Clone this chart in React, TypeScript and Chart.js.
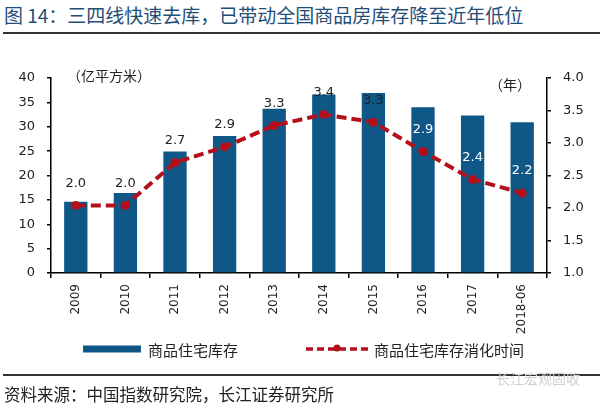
import React, { useEffect, useRef } from 'react';
import { Chart, registerables } from 'chart.js';

Chart.register(...registerables);

const TITLE = '图 14：三四线快速去库，已带动全国商品房库存降至近年低位';
const SOURCE = '资料来源：中国指数研究院，长江证券研究所';
const WATERMARK = '长江宏观固收';
const LEFT_UNIT = '（亿平方米）';
const RIGHT_UNIT = '（年）';

const categories = ['2009', '2010', '2011', '2012', '2013', '2014', '2015', '2016', '2017', '2018-06'];
const inventory = [14.6, 16.4, 24.9, 28.1, 33.7, 36.6, 36.9, 34.0, 32.3, 30.9];
const digestion = [2.04, 2.04, 2.7, 2.94, 3.27, 3.44, 3.32, 2.87, 2.44, 2.23];
const seriesNames = ['商品住宅库存', '商品住宅库存消化时间'];

const BAR_COLOR = '#0f5787';
const LINE_COLOR = '#b3101c';
const NUM_FONT = '"DejaVu Sans", "Noto Sans CJK SC", sans-serif';
const CJK_FONT = '"Noto Sans CJK SC", sans-serif';

const overlayPlugin = {
  id: 'overlay',
  afterDatasetsDraw(chart: any) {
    const ctx = chart.ctx;
    const area = chart.chartArea;
    const barMeta = chart.getDatasetMeta(0);
    const lineMeta = chart.getDatasetMeta(1);
    ctx.save();
    // value labels of the line series
    ctx.font = `13px ${NUM_FONT}`;
    ctx.textAlign = 'center';
    ctx.textBaseline = 'middle';
    lineMeta.data.forEach((pt: any, i: number) => {
      const y = pt.y - 22;
      const barTop = barMeta.data[i].y;
      ctx.fillStyle = y > barTop + 10 ? '#ffffff' : '#222222';
      ctx.fillText(digestion[i].toFixed(1), pt.x, y);
    });
    // unit labels
    ctx.font = `14px ${CJK_FONT}`;
    ctx.fillStyle = '#222222';
    ctx.textAlign = 'left';
    ctx.fillText(LEFT_UNIT, area.left + 16, area.top - 2);
    ctx.textAlign = 'right';
    ctx.fillText(RIGHT_UNIT, area.right - 16, area.top + 7);

    // legend
    const ly = area.bottom + 76;
    ctx.fillStyle = BAR_COLOR;
    ctx.fillRect(83, ly - 3.5, 58, 7);
    ctx.font = `15px ${CJK_FONT}`;
    ctx.fillStyle = '#222222';
    ctx.textAlign = 'left';
    ctx.fillText(seriesNames[0], 148, ly + 1);

    ctx.strokeStyle = LINE_COLOR;
    ctx.lineWidth = 3.5;
    ctx.setLineDash([7, 4]);
    ctx.beginPath();
    ctx.moveTo(306, ly);
    ctx.lineTo(368, ly);
    ctx.stroke();
    ctx.setLineDash([]);
    ctx.fillStyle = LINE_COLOR;
    ctx.beginPath();
    ctx.arc(337, ly - 1, 3.5, 0, Math.PI * 2);
    ctx.fill();
    ctx.fillStyle = '#222222';
    ctx.fillText(seriesNames[1], 374, ly + 1);
    ctx.restore();
  },
};

function ChartView() {
  const ref = useRef<HTMLCanvasElement>(null);
  useEffect(() => {
    if (!ref.current) return;
    const chart = new Chart(ref.current, {
      type: 'bar',
      data: {
        labels: categories,
        datasets: [
          {
            type: 'bar',
            label: seriesNames[0],
            data: inventory,
            backgroundColor: BAR_COLOR,
            borderWidth: 0,
            barPercentage: 0.47,
            categoryPercentage: 1,
            yAxisID: 'y',
            order: 2,
          },
          {
            type: 'line',
            label: seriesNames[1],
            data: digestion,
            borderColor: LINE_COLOR,
            backgroundColor: LINE_COLOR,
            borderWidth: 4,
            borderDash: [10, 5],
            pointRadius: 4.5,
            pointBackgroundColor: LINE_COLOR,
            pointBorderWidth: 0,
            tension: 0,
            fill: false,
            yAxisID: 'y1',
            order: 1,
          } as any,
        ],
      },
      options: {
        responsive: false,
        animation: false,
        devicePixelRatio: 1,
        layout: { padding: { top: 78, bottom: 0, left: 0, right: 0 } },
        plugins: {
          legend: { display: false },
          tooltip: { enabled: false },
          title: { display: false },
        },
        scales: {
          x: {
            offset: true,
            grid: { offset: true, drawOnChartArea: false, drawTicks: true, tickLength: 5, color: '#000', lineWidth: 1.5 },
            border: { color: '#000', width: 1.5 },
            ticks: {
              autoSkip: false,
              minRotation: 90,
              maxRotation: 90,
              padding: 6,
              color: '#222',
              font: { family: NUM_FONT, size: 12 },
            },
            afterFit: (s: any) => { s.height = 135; },
          },
          y: {
            position: 'left',
            min: 0,
            max: 40,
            ticks: { stepSize: 5, padding: 12, color: '#222', font: { family: NUM_FONT, size: 13 } },
            grid: { drawOnChartArea: false, drawTicks: true, tickLength: 4, color: '#000', lineWidth: 1.5 },
            border: { color: '#000', width: 1.5 },
            afterFit: (s: any) => { s.width = 51; },
          },
          y1: {
            position: 'right',
            min: 1,
            max: 4,
            ticks: {
              stepSize: 0.5,
              padding: 12,
              color: '#222',
              font: { family: NUM_FONT, size: 13 },
              callback: (v: any) => Number(v).toFixed(1),
            },
            grid: { drawOnChartArea: false, drawTicks: true, tickLength: 4, color: '#000', lineWidth: 1.5 },
            border: { color: '#000', width: 1.5 },
            afterFit: (s: any) => { s.width = 53; },
          },
        },
      } as any,
      plugins: [overlayPlugin],
    });
    return () => chart.destroy();
  }, []);
  return <canvas ref={ref} width={600} height={408} style={{ position: 'absolute', left: 0, top: 0, width: 600, height: 408 }} />;
}

export default function App() {
  return (
    <div style={{ position: 'fixed', left: 0, top: 0, width: 600, height: 408, background: '#fff', overflow: 'hidden' }}>
      <div style={{ position: 'absolute', left: 4, top: 4, fontFamily: CJK_FONT, fontSize: 19, lineHeight: '22px', color: '#1f4e79', whiteSpace: 'nowrap' }}>
        {TITLE}
      </div>
      <div style={{ position: 'absolute', left: 3, right: 0, top: 32, height: 2, background: '#333' }} />
      <ChartView />
      <div style={{ position: 'absolute', left: 3, right: 0, top: 374, height: 2, background: '#333' }} />
      <div style={{ position: 'absolute', left: 4, top: 383, fontFamily: CJK_FONT, fontSize: 16.5, lineHeight: '22px', color: '#222', whiteSpace: 'nowrap' }}>
        {SOURCE}
      </div>
      <div style={{ position: 'absolute', right: 20, top: 368, fontFamily: CJK_FONT, fontSize: 14, lineHeight: '20px', color: '#d0d0d0', whiteSpace: 'nowrap' }}>
        {WATERMARK}
      </div>
    </div>
  );
}
